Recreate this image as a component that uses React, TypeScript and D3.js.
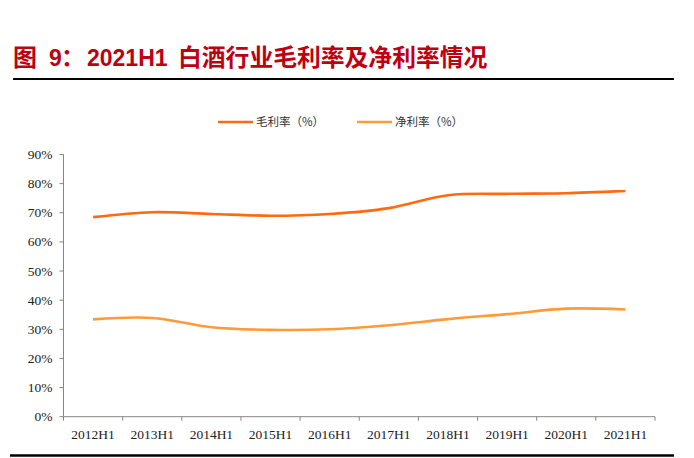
import * as d3 from "d3";

const categories = ["2012H1", "2013H1", "2014H1", "2015H1", "2016H1", "2017H1", "2018H1", "2019H1", "2020H1", "2021H1"];
const grossMargin = [68.5, 70.2, 69.6, 69.0, 69.6, 71.6, 76.0, 76.5, 76.7, 77.5];
const netMargin = [33.4, 33.9, 30.7, 29.8, 30.0, 31.4, 33.5, 35.2, 37.1, 36.8];
const yTicks = [0, 10, 20, 30, 40, 50, 60, 70, 80, 90];
const seriesNames = ["毛利率（%）", "净利率（%）"];
const seriesColors = ["#FF6A10", "#FF9A38"];

const W = 694;
const H = 458;
const left = 63.5;
const right = 655;
const top = 154.5;
const bottom = 416.7;
const axisColor = "#868686";
const serif = "'Liberation Serif', 'Times New Roman', serif";
const cjk = "'Noto Sans CJK SC', sans-serif";

export default function App() {
  const x = d3.scaleBand().domain(categories).range([left, right]);
  const y = d3.scaleLinear().domain([0, 90]).range([bottom, top]);
  const line = d3
    .line<number>()
    .x((_, i) => (x(categories[i]) as number) + x.bandwidth() / 2)
    .y((d) => y(d))
    .curve(d3.curveCardinal.tension(0));

  const series = [grossMargin, netMargin];
  const xTicks = [...categories.map((c) => x(c) as number), right];

  return (
    <svg width={W} height={H} style={{ position: "absolute", left: 0, top: 0, background: "#fff" }}>
      <text y={66} fill="#BE0010" fontWeight="bold" fontFamily={`'Liberation Sans', Arial, ${cjk}`}>
        <tspan x={13} fontSize={24}>图</tspan>
        <tspan x={49} fontSize={23}>9</tspan>
        <tspan x={61} fontSize={24}>：</tspan>
        <tspan x={87} fontSize={23}>2021H1</tspan>
        <tspan x={178} fontSize={23.8}>白酒行业毛利率及净利率情况</tspan>
      </text>
      <line x1={13} x2={674} y1={79} y2={79} stroke="#000" strokeWidth={2.2} />

      {/* legend */}
      {seriesNames.map((name, i) => {
        const lx = i === 0 ? 218 : 357;
        return (
          <g key={name}>
            <line x1={lx} x2={lx + 35} y1={122} y2={122} stroke={seriesColors[i]} strokeWidth={2.5} />
            <text x={lx + 38} y={126} fontSize={11.5} fill="#333" fontFamily={cjk}>
              {name}
            </text>
          </g>
        );
      })}

      {/* y axis */}
      <line x1={left} x2={left} y1={top} y2={bottom} stroke={axisColor} />
      {yTicks.map((t) => (
        <g key={t}>
          <line x1={left - 4} x2={left} y1={y(t)} y2={y(t)} stroke={axisColor} />
          <text x={52.5} y={y(t) + 4.5} textAnchor="end" fontSize={13.5} fill="#222" fontFamily={serif}>
            {t}%
          </text>
        </g>
      ))}

      {/* x axis */}
      <line x1={left} x2={right} y1={bottom} y2={bottom} stroke={axisColor} />
      {xTicks.map((tx, i) => (
        <line key={i} x1={tx} x2={tx} y1={bottom} y2={bottom + 4} stroke={axisColor} />
      ))}
      {categories.map((c) => (
        <text
          key={c}
          x={(x(c) as number) + x.bandwidth() / 2}
          y={439}
          textAnchor="middle"
          fontSize={13.5}
          fill="#222"
          fontFamily={serif}
        >
          {c}
        </text>
      ))}

      {series.map((s, i) => (
        <path key={i} d={line(s) ?? ""} fill="none" stroke={seriesColors[i]} strokeWidth={2.6} />
      ))}

      <line x1={10} x2={674} y1={455.5} y2={455.5} stroke="#000" strokeWidth={2.6} />
    </svg>
  );
}
